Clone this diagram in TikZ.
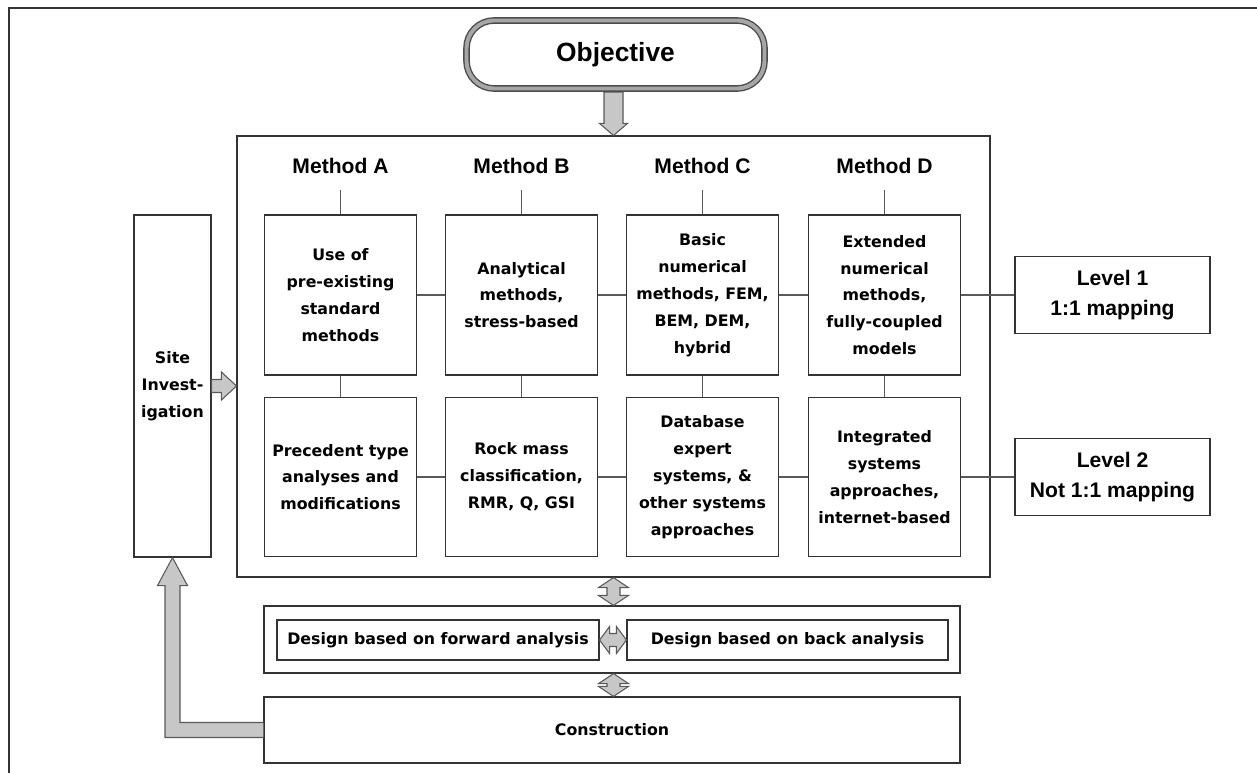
\documentclass[tikz,border=0pt]{standalone}
\usepackage{fontspec}
\setmainfont{Liberation Sans}
\newfontfamily\dvfont{DejaVu Sans}
\usetikzlibrary{calc}

\begin{document}
\begin{tikzpicture}[x=0.02cm,y=-0.02cm,
  box/.style={draw=black!80,line width=0.7pt,fill=white,align=center,inner sep=0pt,
    font=\dvfont\bfseries\fontsize{9}{15.3}\selectfont},
  cell/.style={box,minimum width=3.04cm,minimum height=3.2cm},
  mlabel/.style={inner sep=0pt,text depth=0pt,minimum height=0.96cm,
    font=\bfseries\fontsize{12}{14}\selectfont},
  level/.style={box,minimum width=3.9cm,minimum height=1.54cm,
    font=\bfseries\fontsize{12}{17}\selectfont},
  conn/.style={draw=black!65,line width=0.7pt},
  blk/.style={draw=black!65,fill=black!22,line width=0.6pt,line join=miter}]
				\useasboundingbox (0,0) rectangle (1257,773);
				\draw[line width=1.4pt,black!80] (9,773) -- (9,8) -- (1257,8);
				% frames
				\node[draw=black!80,line width=0.7pt,inner sep=0pt,minimum width=15.06cm,minimum height=8.82cm] (main) at (613.5,356.5) {};
				\node[draw=black!80,line width=0.7pt,inner sep=0pt,minimum width=13.92cm,minimum height=1.34cm] (dfr) at (612,639.5) {};
				% methods
				\node[mlabel] (mA) at (340.5,166) {Method A};
				\node[mlabel] (mB) at (521.5,166) {Method B};
				\node[mlabel] (mC) at (702.5,166) {Method C};
				\node[mlabel] (mD) at (884.5,166) {Method D};
				\node[cell] (tA) at (340.5,295) {Use of\\pre-existing\\standard\\methods};
				\node[cell] (tB) at (521.5,295) {Analytical\\methods,\\stress-based};
				\node[cell] (tC) at (702.5,295) {Basic\\numerical\\methods, FEM,\\BEM, DEM,\\hybrid};
				\node[cell] (tD) at (884.5,295) {Extended\\numerical\\methods,\\fully-coupled\\models};
				\node[cell,minimum height=3.18cm] (bA) at (340.5,477) {Precedent type\\analyses and\\modifications};
				\node[cell,minimum height=3.18cm] (bB) at (521.5,477) {Rock mass\\classification,\\RMR, Q, GSI};
				\node[cell,minimum height=3.18cm] (bC) at (702.5,477) {Database\\expert\\systems, \&\\other systems\\approaches};
				\node[cell,minimum height=3.18cm] (bD) at (884.5,477) {Integrated\\systems\\approaches,\\internet-based};
				\node[level] (lev1) at (1112.5,295) {Level 1\\1:1 mapping};
				\node[level] (lev2) at (1112.5,477) {Level 2\\Not 1:1 mapping};
				% connectors
				\foreach \c in {A,B,C,D}
					\draw[conn] (m\c.south) -- (t\c.north) (t\c.south) -- (b\c.north);
				\foreach \a/\b in {A/B,B/C,C/D}
					\draw[conn] (t\a.east) -- (t\b.west) (b\a.east) -- (b\b.west);
				\draw[conn] (tD.east) -- (lev1.west);
				\draw[conn] (bD.east) -- (lev2.west);
				% left and bottom
				\node[box,minimum width=1.54cm,minimum height=6.84cm] (site) at (172.5,386) {Site\\Invest-\\igation};
				\node[box,minimum width=6.44cm,minimum height=0.8cm] (fwd) at (438,640) {Design based on forward analysis};
				\node[box,minimum width=6.42cm,minimum height=0.8cm] (back) at (787.5,640) {Design based on back analysis};
				\node[box,minimum width=13.92cm,minimum height=1.32cm] (cons) at (612,730) {Construction};
				% block arrows
				\coordinate (t) at (main.north);
				\draw[blk] ($(t |- 0,92)+(-9.5,0)$) -- ($(t)+(-9.5,-12)$) -- ($(t)+(-14,-12)$) -- (t)
					-- ($(t)+(14,-12)$) -- ($(t)+(9.5,-12)$) -- ($(t |- 0,92)+(9.5,0)$) -- cycle;
				\node[draw=black!70,double=black!35,double distance=2.2pt,line width=0.8pt,fill=white,
					rounded corners=0.55cm,minimum width=5.96cm,minimum height=1.36cm,
					font=\bfseries\fontsize{15}{18}\selectfont] (obj) at (615.5,54.5) {Objective};
				\coordinate (s) at (main.west |- site.east);
				\draw[blk] ($(site.east)+(0,-6.5)$) -- ($(s)+(-15,-6.5)$) -- ($(s)+(-15,-14)$) -- (s)
					-- ($(s)+(-15,14)$) -- ($(s)+(-15,6.5)$) -- ($(site.east)+(0,6.5)$) -- cycle;
				\foreach \p/\q in {main/dfr,dfr/cons}{
					\coordinate (p) at (main.south |- \p.south);
					\coordinate (q) at (main.south |- \q.north);
					\draw[blk] (p) -- ($(p)+(15,10)$) -- ($(p)+(6.5,10)$) -- ($(q)+(6.5,-10)$) -- ($(q)+(15,-10)$) -- (q)
						-- ($(q)+(-15,-10)$) -- ($(q)+(-6.5,-10)$) -- ($(p)+(-6.5,10)$) -- ($(p)+(-15,10)$) -- cycle;
				}
				\draw[blk] (fwd.east) -- ($(fwd.east)+(10,-13.5)$) -- ($(fwd.east)+(10,-6.5)$) -- ($(back.west)+(-10,-6.5)$)
					-- ($(back.west)+(-10,-13.5)$) -- (back.west) -- ($(back.west)+(-10,13.5)$) -- ($(back.west)+(-10,6.5)$)
					-- ($(fwd.east)+(10,6.5)$) -- ($(fwd.east)+(10,13.5)$) -- cycle;
				\coordinate (c) at (site.south |- cons.west);
				\draw[blk] ($(cons.west)+(0,-7.5)$) -- ($(c)+(7.5,-7.5)$) -- ($(site.south)+(7.5,28)$) -- ($(site.south)+(15,28)$)
					-- (site.south) -- ($(site.south)+(-15,28)$) -- ($(site.south)+(-7.5,28)$) -- ($(c)+(-7.5,7.5)$) -- ($(cons.west)+(0,7.5)$);
			\end{tikzpicture}
\end{document}
